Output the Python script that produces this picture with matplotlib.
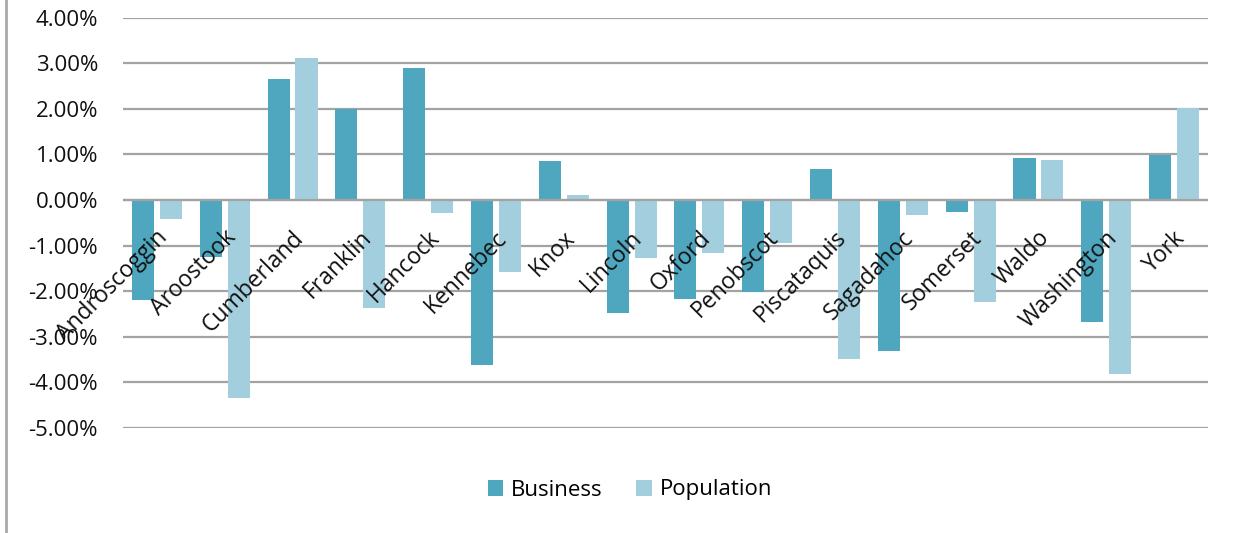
import matplotlib.pyplot as plt
import matplotlib.ticker as mticker
from matplotlib.lines import Line2D
from matplotlib.transforms import offset_copy
import numpy as np

plt.rcParams['font.family'] = ['Open Sans', 'DejaVu Sans']

counties = ["Androscoggin", "Aroostook", "Cumberland", "Franklin", "Hancock",
            "Kennebec", "Knox", "Lincoln", "Oxford", "Penobscot", "Piscataquis",
            "Sagadahoc", "Somerset", "Waldo", "Washington", "York"]
business = [-2.20, -1.24, 2.66, 2.00, 2.90, -3.62, 0.86, -2.48, -2.17, -2.01,
            0.67, -3.31, -0.26, 0.91, -2.67, 0.99]
population = [-0.42, -4.35, 3.11, -2.36, -0.28, -1.59, 0.10, -1.28, -1.17, -0.95,
              -3.48, -0.34, -2.24, 0.87, -3.81, 2.01]

c_bus = "#4FA7BF"
c_pop = "#A2CEDD"
grid_c = "#A3A3A3"

fig = plt.figure(figsize=(12.38, 5.33), dpi=100)
ax = fig.add_axes([123 / 1238, 1 - 428 / 533, 1085 / 1238, 410.5 / 533])

x = np.arange(len(counties))
w = 0.325
off = 0.206
ax.bar(x - off, business, w, color=c_bus, label="Business", zorder=3)
ax.bar(x + off, population, w, color=c_pop, label="Population", zorder=3)

ax.set_xlim(-0.5, len(counties) - 0.5)
ax.set_ylim(-5, 4)
ax.yaxis.set_major_locator(mticker.MultipleLocator(1))
ax.yaxis.set_major_formatter(mticker.FuncFormatter(lambda v, p: f"{v:.2f}%"))
ax.grid(axis='y', color=grid_c, linewidth=1.6, zorder=0)
ax.axhline(0, color=grid_c, linewidth=1.6, zorder=4)
for s in ax.spines.values():
    s.set_visible(False)
ax.tick_params(axis='y', length=0, pad=18, labelsize=16, labelcolor="#111111")
ax.set_xticks([])

# category names rotated under the zero line, like Excel does
trans = offset_copy(ax.transData, fig=fig, x=-1, y=-26, units='dots')
for i, name in enumerate(counties):
    ax.text(i, 0, name, transform=trans, rotation=45, rotation_mode='anchor',
            ha='right', va='top', fontsize=16.5, color="#111111", zorder=5)

fig.legend(loc='center', bbox_to_anchor=(630 / 1238, 1 - 490 / 533), ncol=2,
           frameon=False, fontsize=16, handlelength=0.7, handleheight=0.7,
           handletextpad=0.35, columnspacing=1.5)

fig.add_artist(Line2D([6 / 1238, 6 / 1238], [0, 1], color="#A8A8A8", linewidth=2))

fig.savefig("out.png", dpi=100)
